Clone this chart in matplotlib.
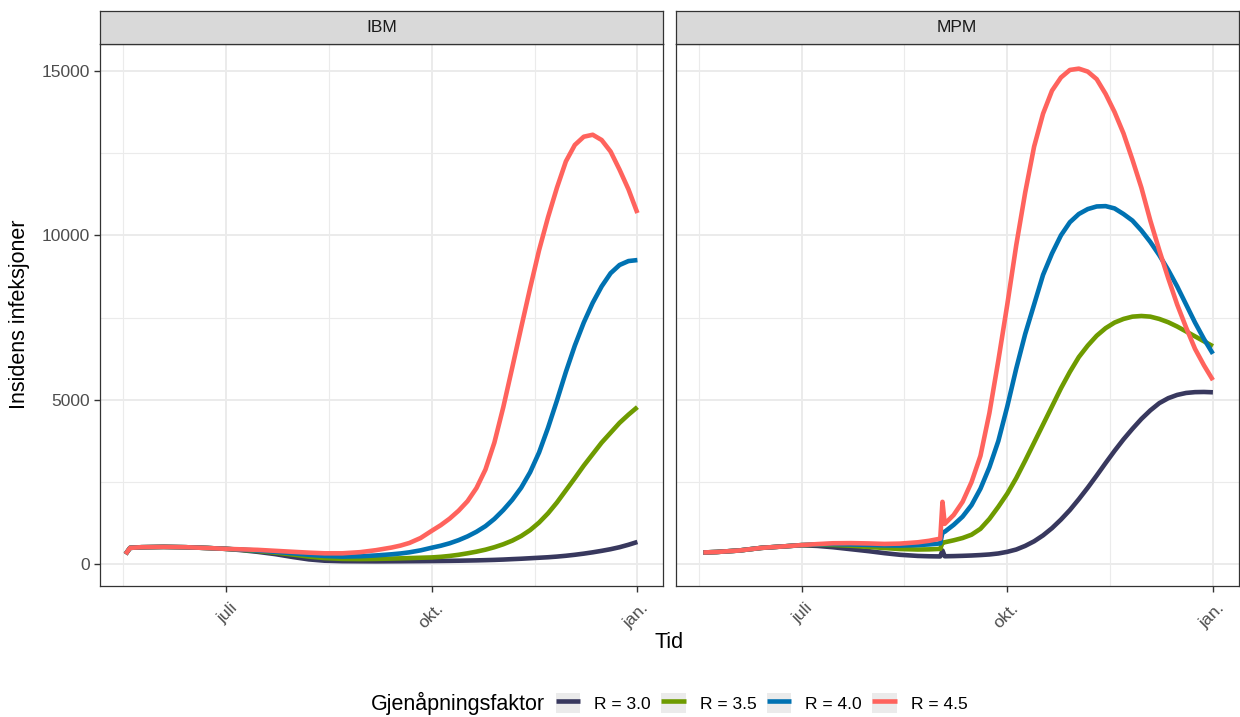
import matplotlib
matplotlib.use("Agg")
import matplotlib.pyplot as plt
import matplotlib.transforms as mtransforms
import pandas as pd
from matplotlib.patches import Rectangle
from matplotlib.lines import Line2D

plt.rcParams['font.family'] = ['Liberation Sans', 'DejaVu Sans']

# ---------------- data ----------------
panels = ["IBM", "MPM"]
series_labels = ["R = 3.0", "R = 3.5", "R = 4.0", "R = 4.5"]
series_colors = ["#38385E", "#6E9B00", "#0072B2", "#FF635D"]

ibm_dates = ["2020-05-17", "2020-05-19", "2020-05-24", "2020-06-03", "2020-06-13", "2020-06-23",
             "2020-07-01", "2020-07-08", "2020-07-15", "2020-07-23", "2020-07-31", "2020-08-07",
             "2020-08-14", "2020-08-22", "2020-08-30", "2020-09-06", "2020-09-13", "2020-09-17",
             "2020-09-21", "2020-09-26", "2020-10-01", "2020-10-05", "2020-10-09", "2020-10-13",
             "2020-10-17", "2020-10-21", "2020-10-25", "2020-10-29", "2020-11-02", "2020-11-06",
             "2020-11-10", "2020-11-14", "2020-11-18", "2020-11-22", "2020-11-26", "2020-11-30",
             "2020-12-04", "2020-12-08", "2020-12-12", "2020-12-16", "2020-12-20", "2020-12-24",
             "2020-12-28", "2021-01-01"]
ibm_r30 = [311, 500, 520, 530, 520, 495, 470, 430, 380, 310, 220, 150, 110, 95, 92, 90, 92, 93,
           95, 97, 100, 103, 106, 110, 115, 120, 127, 135, 145, 158, 170, 185, 200, 215, 235, 260,
           290, 325, 365, 410, 460, 520, 595, 680]
ibm_r35 = [311, 500, 520, 530, 520, 495, 470, 440, 405, 355, 295, 235, 190, 165, 160, 165, 175, 182,
           190, 200, 210, 228, 255, 290, 335, 385, 445, 520, 610, 720, 860, 1040, 1270, 1550, 1880,
           2250, 2620, 3000, 3350, 3700, 4000, 4300, 4550, 4780]
ibm_r40 = [311, 500, 520, 530, 520, 495, 470, 445, 420, 380, 335, 290, 255, 235, 245, 270, 305, 330,
           365, 425, 505, 565, 640, 735, 850, 990, 1160, 1380, 1650, 1960, 2330, 2800, 3400, 4150,
           4980, 5850, 6650, 7350, 7950, 8450, 8850, 9100, 9220, 9250]
ibm_r45 = [311, 500, 520, 530, 520, 495, 470, 455, 440, 410, 380, 355, 335, 335, 370, 430, 510, 570,
           650, 800, 1020, 1190, 1390, 1630, 1920, 2320, 2880, 3700, 4780, 5980, 7200, 8400, 9550,
           10550, 11450, 12250, 12750, 13000, 13060, 12900, 12550, 12000, 11400, 10680]

mpm_dates = ["2020-05-18", "2020-05-24", "2020-06-03", "2020-06-13", "2020-06-23", "2020-07-01",
             "2020-07-08", "2020-07-15", "2020-07-23", "2020-07-31", "2020-08-07", "2020-08-14",
             "2020-08-22", "2020-08-27", "2020-09-01", "2020-09-02", "2020-09-03", "2020-09-07",
             "2020-09-11", "2020-09-15", "2020-09-19", "2020-09-23", "2020-09-27", "2020-10-01",
             "2020-10-05", "2020-10-09", "2020-10-13", "2020-10-17", "2020-10-21", "2020-10-25",
             "2020-10-29", "2020-11-02", "2020-11-06", "2020-11-10", "2020-11-14", "2020-11-18",
             "2020-11-22", "2020-11-26", "2020-11-30", "2020-12-04", "2020-12-08", "2020-12-12",
             "2020-12-16", "2020-12-20", "2020-12-24", "2020-12-28", "2021-01-01"]
mpm_r30 = [360, 375, 420, 500, 545, 580, 560, 520, 460, 400, 340, 290, 255, 245, 240, 420, 245, 250,
           258, 268, 282, 300, 330, 380, 450, 560, 700, 880, 1100, 1360, 1650, 1980, 2330, 2700,
           3080, 3450, 3800, 4120, 4420, 4680, 4900, 5050, 5150, 5210, 5235, 5240, 5230]
mpm_r35 = [360, 375, 420, 500, 545, 585, 595, 590, 565, 530, 495, 465, 450, 455, 470, 660, 670, 730,
           800, 900, 1080, 1380, 1750, 2150, 2620, 3150, 3700, 4250, 4800, 5350, 5850, 6300, 6650,
           6950, 7180, 7350, 7460, 7530, 7550, 7530, 7460, 7360, 7230, 7080, 6930, 6780, 6630]
mpm_r40 = [360, 375, 420, 500, 545, 585, 605, 615, 605, 590, 575, 570, 585, 605, 635, 970, 990, 1200,
           1450, 1800, 2300, 2950, 3750, 4800, 5950, 7000, 7900, 8800, 9450, 10000, 10400, 10650,
           10800, 10880, 10890, 10820, 10650, 10450, 10150, 9800, 9400, 8950, 8450, 7900, 7350,
           6850, 6400]
mpm_r45 = [360, 375, 420, 500, 545, 585, 615, 640, 645, 635, 620, 630, 670, 715, 780, 1900, 1230,
           1500, 1900, 2500, 3300, 4600, 6200, 7900, 9700, 11300, 12700, 13700, 14400, 14800, 15030,
           15070, 14980, 14750, 14300, 13750, 13100, 12300, 11450, 10450, 9550, 8700, 7900, 7200,
           6550, 6050, 5600]

x_tick_dates = ["2020-07-01", "2020-10-01", "2021-01-01"]
x_tick_labels = ["juli", "okt.", "jan."]
x_minor_dates = ["2020-05-16", "2020-08-16", "2020-11-16"]
y_ticks = [0, 5000, 10000, 15000]
y_minor = [2500, 7500, 12500]

legend_title = "Gjenåpningsfaktor"
x_title = "Tid"
y_title = "Insidens infeksjoner"

# ---------------- figure ----------------
W, H = 1240, 717
fig = plt.figure(figsize=(W / 100, H / 100), dpi=100)
fig.patch.set_facecolor("white")

def fx(px):
    return px / W

def fy(py):
    return 1 - py / H

panel_left = [100, 675.5]
panel_w = 563
panel_top, panel_bottom = 44, 586
strip_top = 11

data = {
    "IBM": (ibm_dates, [ibm_r30, ibm_r35, ibm_r40, ibm_r45]),
    "MPM": (mpm_dates, [mpm_r30, mpm_r35, mpm_r40, mpm_r45]),
}

all_dates = pd.to_datetime(ibm_dates + mpm_dates)
dmin, dmax = all_dates.min(), all_dates.max()
dspan = dmax - dmin
xlim = (dmin - 0.05 * dspan, dmax + 0.05 * dspan)
all_vals = [v for p in panels for s in data[p][1] for v in s]
vmin, vmax = min(all_vals), max(all_vals)
vspan = vmax - vmin
ylim = (vmin - 0.05 * vspan, vmax + 0.05 * vspan)

border_col = "#333333"
grid_col = "#EBEBEB"
tick_txt = "#4D4D4D"
FS = 12.5

for i, p in enumerate(panels):
    ax = fig.add_axes([fx(panel_left[i]), fy(panel_bottom), fx(panel_w),
                       (panel_bottom - panel_top) / H])
    dates, vals = data[p]
    d = pd.to_datetime(dates)
    for s, col in zip(vals, series_colors):
        ax.plot(d, s, color=col, lw=3.3, solid_capstyle="butt", solid_joinstyle="round", zorder=3)
    ax.set_xlim(xlim)
    ax.set_ylim(ylim)
    tick_pos = pd.to_datetime(x_tick_dates)
    ax.set_xticks(tick_pos)
    ax.set_xticks(pd.to_datetime(x_minor_dates), minor=True)
    ax.tick_params(axis="x", labelbottom=False)
    lab_tr = ax.get_xaxis_transform() + mtransforms.ScaledTranslation(
        2.5 / 72, -10.5 / 72, fig.dpi_scale_trans)
    for tp, tl in zip(tick_pos, x_tick_labels):
        ax.text(tp, 0, tl, transform=lab_tr, rotation=45, ha="right", va="top",
                rotation_mode="anchor", color=tick_txt, fontsize=FS, clip_on=False)
    ax.set_yticks(y_ticks)
    ax.set_yticks(y_minor, minor=True)
    ax.set_axisbelow(True)
    ax.grid(which="major", color=grid_col, lw=1.4)
    ax.grid(which="minor", color=grid_col, lw=0.8)
    ax.tick_params(which="minor", length=0)
    ax.tick_params(which="major", length=4.3, width=1.0, color=border_col, pad=2)
    if i == 0:
        ax.set_yticklabels([str(t) for t in y_ticks], color=tick_txt, fontsize=FS)
        ax.tick_params(axis="y", pad=3)
    else:
        ax.tick_params(axis="y", length=0, labelleft=False)
    for sp in ax.spines.values():
        sp.set_color(border_col)
        sp.set_linewidth(0.9)

    sax = fig.add_axes([fx(panel_left[i]), fy(panel_top), fx(panel_w),
                        (panel_top - strip_top) / H])
    sax.set_facecolor("#D9D9D9")
    sax.set_xticks([])
    sax.set_yticks([])
    for sp in sax.spines.values():
        sp.set_color(border_col)
        sp.set_linewidth(0.9)
    sax.text(0.5, 0.5, p, ha="center", va="center", fontsize=FS, color="#1A1A1A",
             transform=sax.transAxes)

fig.text(fx(669), fy(642), x_title, ha="center", va="center", fontsize=15.5, color="black")
fig.text(fx(20), fy(314), y_title, ha="center", va="center", rotation=90, fontsize=15.5,
         color="black")

# legend
handles = []
for col in series_colors:
    handles.append((Rectangle((0, 0), 1, 1, facecolor="#EBEBEB", edgecolor="none"),
                    Line2D([], [], color=col, lw=3.3, solid_capstyle="butt")))
fig.text(fx(545), fy(703), legend_title, ha="right", va="center", fontsize=15.5, color="black")
leg = fig.legend(handles, series_labels, loc="center left", bbox_to_anchor=(fx(556), fy(703)),
                 ncol=4, frameon=False, fontsize=FS, handlelength=1.41, handleheight=1.41,
                 handletextpad=0.8, columnspacing=0.6, borderpad=0, borderaxespad=0)

fig.savefig("out.png", dpi=100)
